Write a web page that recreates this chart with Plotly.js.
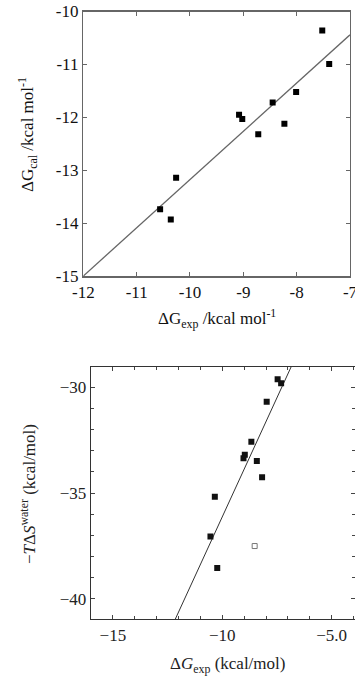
<!DOCTYPE html>
<html><head><meta charset="utf-8">
<script src="https://cdn.plot.ly/plotly-3.0.1.min.js"></script>
<style>html,body{margin:0;padding:0;background:#fff}#c{width:355px;height:678px}</style>
</head><body><div id="c"></div>
<script>
// Top panel: calculated vs experimental binding free energy
const topExp = [-7.52, -7.39, -8.01, -8.45, -9.08, -9.02, -8.72, -8.23, -10.26, -10.56, -10.36];
const topCal = [-10.36, -10.99, -11.52, -11.72, -11.95, -12.03, -12.32, -12.12, -13.14, -13.74, -13.93];
const topFitX = [-12, -7];
const topFitY = [-15, -10.44];
const topXTicks = [-12, -11, -10, -9, -8, -7];
const topYTicks = [-15, -14, -13, -12, -11, -10];

// Bottom panel: -TΔS(water) vs experimental free energy
const botExp = [-7.47, -7.31, -7.97, -8.67, -8.97, -9.03, -8.42, -8.18, -10.34, -10.54, -10.23];
const botTS = [-29.62, -29.81, -30.68, -32.57, -33.19, -33.35, -33.48, -34.25, -35.17, -37.05, -38.54];
const botOpenExp = [-8.52];
const botOpenTS = [-37.5];
const botFitX = [-12.15, -6.85];
const botFitY = [-40.96, -29.03];
const botXTickVals = [-15, -10, -5];
const botXTickText = ['\u221215', '\u221210', '\u22125.0'];
const botYTickVals = [-40, -35, -30];
const botYTickText = ['\u221240', '\u221235', '\u221230'];

const serif = 'Times New Roman, Liberation Serif, DejaVu Serif, serif';

const traces = [
  {x: topFitX, y: topFitY, mode: 'lines', line: {color: '#666', width: 1.3}, xaxis: 'x', yaxis: 'y', hoverinfo: 'skip'},
  {x: topExp, y: topCal, mode: 'markers', marker: {symbol: 'square', size: 6, color: '#000'}, xaxis: 'x', yaxis: 'y'},
  {x: botFitX, y: botFitY, mode: 'lines', line: {color: '#333', width: 1}, xaxis: 'x2', yaxis: 'y2', hoverinfo: 'skip'},
  {x: botExp, y: botTS, mode: 'markers', marker: {symbol: 'square', size: 6, color: '#111'}, xaxis: 'x2', yaxis: 'y2'},
  {x: botOpenExp, y: botOpenTS, mode: 'markers', marker: {symbol: 'square-open', size: 5, color: '#777', line: {width: 1}}, xaxis: 'x2', yaxis: 'y2'}
];

const topAx = {
  showline: true, linecolor: '#666', linewidth: 1.5, mirror: 'ticks',
  ticks: 'inside', ticklen: 4, tickcolor: '#666', tickwidth: 1,
  showgrid: false, zeroline: false, ticklabeloverflow: 'allow',
  tickfont: {family: serif, size: 17, color: '#111'}
};
const botAx = {
  showline: true, linecolor: '#333', linewidth: 1.2, mirror: 'ticks',
  ticks: 'inside', ticklen: 4, tickcolor: '#444', tickwidth: 1,
  showgrid: false, zeroline: false, ticklabeloverflow: 'allow',
  tickfont: {family: serif, size: 17, color: '#222'},
  minor: {dtick: 1, tick0: 0, ticks: 'inside', ticklen: 3, tickcolor: '#444', showgrid: false}
};

const layout = {
  width: 355, height: 678,
  margin: {l: 0, r: 0, t: 0, b: 0},
  paper_bgcolor: '#fff', plot_bgcolor: '#fff',
  showlegend: false,
  font: {family: serif},
  xaxis: Object.assign({}, topAx, {domain: [0.2347, 0.9859], range: [-12, -7], tickvals: topXTicks, ticktext: topXTicks.map(String), anchor: 'y'}),
  yaxis: Object.assign({}, topAx, {domain: [0.5929, 0.9830], range: [-15, -10], tickvals: topYTicks, ticktext: topYTicks.map(String), anchor: 'x'}),
  xaxis2: Object.assign({}, botAx, {domain: [0.2563, 0.999], range: [-16, -3.95], tickvals: botXTickVals, ticktext: botXTickText, anchor: 'y2'}),
  yaxis2: Object.assign({}, botAx, {domain: [0.0866, 0.4591], range: [-40.96, -29.03], tickvals: botYTickVals, ticktext: botYTickText, anchor: 'x2'}),
  annotations: [
    {text: '\u0394G<sub>exp</sub> /kcal mol<sup>-1</sup>', xref: 'paper', yref: 'paper', x: 217/355, y: 1 - 318/678, xanchor: 'center', yanchor: 'middle', showarrow: false, font: {family: serif, size: 17, color: '#111'}},
    {text: '\u0394G<sub>cal</sub> /kcal mol<sup>-1</sup>', xref: 'paper', yref: 'paper', x: 28/355, y: 1 - 135/678, xanchor: 'center', yanchor: 'middle', textangle: -90, showarrow: false, font: {family: serif, size: 17, color: '#111'}},
    {text: '\u0394<i>G</i><sub>exp</sub> (kcal/mol)', xref: 'paper', yref: 'paper', x: 227/355, y: 1 - 665/678, xanchor: 'center', yanchor: 'middle', showarrow: false, font: {family: serif, size: 17, color: '#222'}},
    {text: '\u2212<i>T</i>\u0394<i>S</i><sup>water</sup> (kcal/mol)', xref: 'paper', yref: 'paper', x: 28/355, y: 1 - 494/678, xanchor: 'center', yanchor: 'middle', textangle: -90, showarrow: false, font: {family: serif, size: 17, color: '#222'}}
  ]
};

Plotly.newPlot('c', traces, layout, {staticPlot: true, displayModeBar: false});
</script>
</body></html>
